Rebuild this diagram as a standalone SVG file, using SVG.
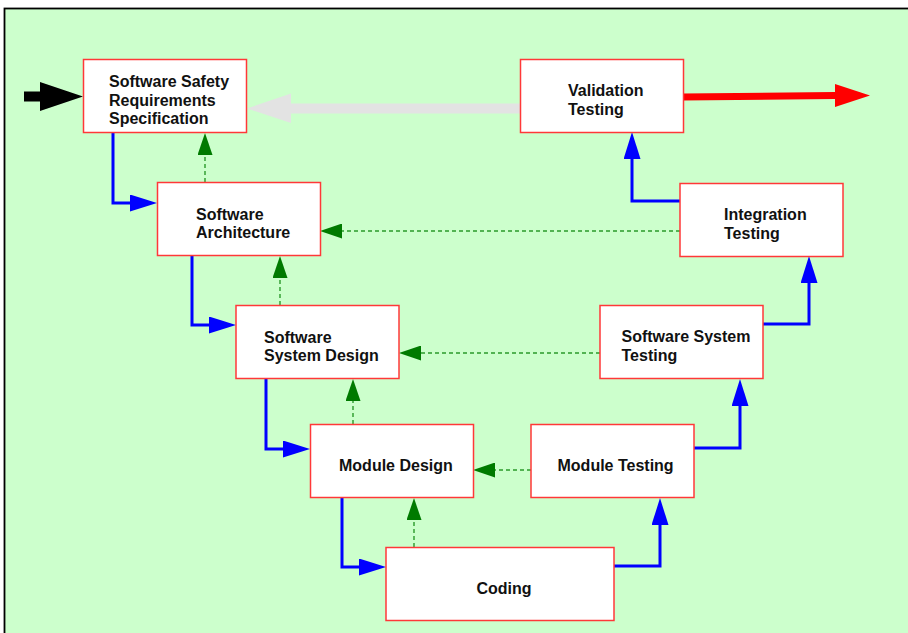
<svg xmlns="http://www.w3.org/2000/svg" width="908" height="633" viewBox="0 0 908 633">
<style>
.box{fill:#ffffff;stroke:#ff3838;stroke-width:1.5}
.lbl{font-family:"Liberation Sans",Arial,sans-serif;font-weight:bold;font-size:16px;fill:#111111}
.blue{fill:none;stroke:#0000ff;stroke-width:3;marker-end:url(#bh)}
.green{fill:none;stroke:#2a9a2a;stroke-width:1.4;stroke-dasharray:4 3;marker-end:url(#gh)}
</style>
<defs>
<marker id="bh" viewBox="0 0 27 17" markerWidth="27" markerHeight="17" refX="17" refY="8.5" orient="auto" markerUnits="userSpaceOnUse">
<path d="M0,0 L27,8.5 L0,17 z" fill="#0000ff"/>
</marker>
<marker id="gh" viewBox="0 0 22 15" markerWidth="22" markerHeight="15" refX="12" refY="7.5" orient="auto" markerUnits="userSpaceOnUse">
<path d="M0,0 L22,7.5 L0,15 z" fill="#007a00"/>
</marker>
</defs>
<rect x="4.5" y="8.5" width="910" height="630" fill="#ccffcc" stroke="#000000" stroke-width="1.8"/>
<g id="connectors">
<polygon points="24,91.5 40,91.5 40,82 83,96.5 40,111 40,101.5 24,101.5" fill="#000000"/>
<polygon points="520,103.5 291,103.5 291,93.5 247,108.5 291,123 291,113.5 520,113.5" fill="#e3e3e3"/>
<polygon points="683,93.5 835,92 835,84 870,95.5 835,107 835,99 683,100.5" fill="#ff0000"/>
<path class="blue" d="M113,132 V203 H147"/>
<path class="blue" d="M192,256 V325 H226"/>
<path class="blue" d="M266,379 V449 H300"/>
<path class="blue" d="M342,498 V567 H376"/>
<path class="blue" d="M614,566 H660 V508"/>
<path class="blue" d="M694,448 H740 V389"/>
<path class="blue" d="M763,324 H809 V266"/>
<path class="blue" d="M680,201 H632 V142"/>
<path class="green" d="M205,182 V143"/>
<path class="green" d="M280,305 V266"/>
<path class="green" d="M353,424 V389"/>
<path class="green" d="M414,547 V508"/>
<path class="green" d="M680,231 H330"/>
<path class="green" d="M600,353 H409"/>
<path class="green" d="M531,470 H483"/>
</g>
<g id="ssrs">
<rect class="box" x="83.5" y="59.5" width="163" height="73"/>
<text class="lbl" x="109" y="87">Software Safety</text>
<text class="lbl" x="109" y="105.5">Requirements</text>
<text class="lbl" x="109" y="124">Specification</text>
</g>
<g id="validation">
<rect class="box" x="520.5" y="59.5" width="163" height="73"/>
<text class="lbl" x="568" y="96">Validation</text>
<text class="lbl" x="568" y="115">Testing</text>
</g>
<g id="architecture">
<rect class="box" x="157.5" y="182.5" width="163" height="73"/>
<text class="lbl" x="196" y="219.5">Software</text>
<text class="lbl" x="196" y="238">Architecture</text>
</g>
<g id="integration">
<rect class="box" x="680" y="183.5" width="163" height="73"/>
<text class="lbl" x="724" y="220">Integration</text>
<text class="lbl" x="724" y="239">Testing</text>
</g>
<g id="systemdesign">
<rect class="box" x="236" y="305.5" width="163" height="73"/>
<text class="lbl" x="264" y="342.5">Software</text>
<text class="lbl" x="264" y="361">System Design</text>
</g>
<g id="systemtesting">
<rect class="box" x="600" y="305.5" width="163" height="73"/>
<text class="lbl" x="621.5" y="342">Software System</text>
<text class="lbl" x="621.5" y="361">Testing</text>
</g>
<g id="moduledesign">
<rect class="box" x="310.5" y="424.5" width="163" height="73"/>
<text class="lbl" x="339" y="471">Module Design</text>
</g>
<g id="moduletesting">
<rect class="box" x="531" y="424.5" width="163" height="73"/>
<text class="lbl" x="557.5" y="471">Module Testing</text>
</g>
<g id="coding">
<rect class="box" x="386" y="547.5" width="228" height="73"/>
<text class="lbl" x="476.5" y="594">Coding</text>
</g>
</svg>
